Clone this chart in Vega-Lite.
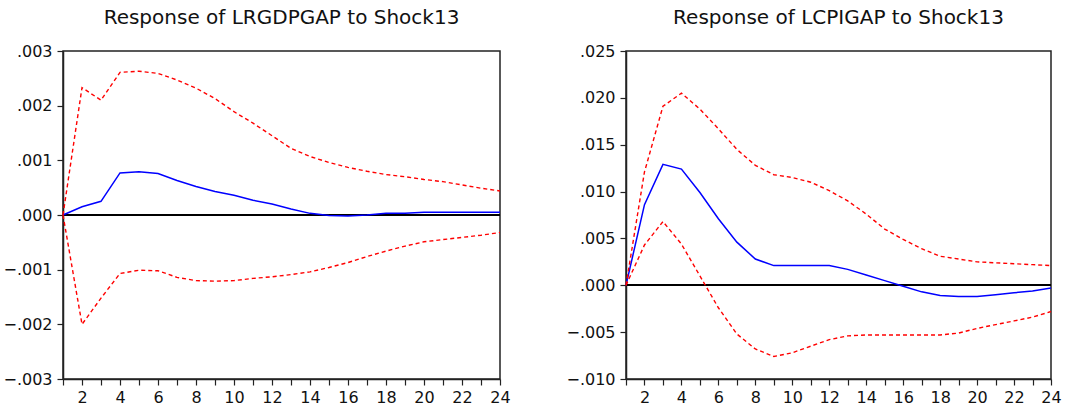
{
  "$schema": "https://vega.github.io/schema/vega-lite/v6.json",
  "background": "white",
  "padding": {"left": 2, "top": 7, "right": 0, "bottom": 0},
  "spacing": 126,
  "bounds": "flush",
  "data": {"values": [
    {"p":"L","h":1,"resp":0,"lo":0,"hi":0},
    {"p":"L","h":2,"resp":0.00015,"lo":-0.00200,"hi":0.00233},
    {"p":"L","h":3,"resp":0.00025,"lo":-0.00152,"hi":0.00210},
    {"p":"L","h":4,"resp":0.00077,"lo":-0.00107,"hi":0.00261},
    {"p":"L","h":5,"resp":0.00079,"lo":-0.00101,"hi":0.00263},
    {"p":"L","h":6,"resp":0.00076,"lo":-0.00102,"hi":0.00259},
    {"p":"L","h":7,"resp":0.00063,"lo":-0.00114,"hi":0.00247},
    {"p":"L","h":8,"resp":0.00052,"lo":-0.00120,"hi":0.00232},
    {"p":"L","h":9,"resp":0.00043,"lo":-0.00121,"hi":0.00213},
    {"p":"L","h":10,"resp":0.00036,"lo":-0.00120,"hi":0.00189},
    {"p":"L","h":11,"resp":0.00027,"lo":-0.00116,"hi":0.00168},
    {"p":"L","h":12,"resp":0.00020,"lo":-0.00113,"hi":0.00145},
    {"p":"L","h":13,"resp":0.00011,"lo":-0.00109,"hi":0.00122},
    {"p":"L","h":14,"resp":0.00003,"lo":-0.00104,"hi":0.00107},
    {"p":"L","h":15,"resp":-0.00001,"lo":-0.00096,"hi":0.00096},
    {"p":"L","h":16,"resp":-0.00002,"lo":-0.00087,"hi":0.00087},
    {"p":"L","h":17,"resp":0.00000,"lo":-0.00076,"hi":0.00080},
    {"p":"L","h":18,"resp":0.00003,"lo":-0.00066,"hi":0.00074},
    {"p":"L","h":19,"resp":0.00003,"lo":-0.00057,"hi":0.00070},
    {"p":"L","h":20,"resp":0.00005,"lo":-0.00049,"hi":0.00065},
    {"p":"L","h":21,"resp":0.00005,"lo":-0.00045,"hi":0.00061},
    {"p":"L","h":22,"resp":0.00005,"lo":-0.00041,"hi":0.00055},
    {"p":"L","h":23,"resp":0.00005,"lo":-0.00037,"hi":0.00049},
    {"p":"L","h":24,"resp":0.00005,"lo":-0.00032,"hi":0.00044},
    {"p":"R","h":1,"resp":0,"lo":0,"hi":0},
    {"p":"R","h":2,"resp":0.0086,"lo":0.0043,"hi":0.0121},
    {"p":"R","h":3,"resp":0.0129,"lo":0.0068,"hi":0.0191},
    {"p":"R","h":4,"resp":0.0124,"lo":0.0044,"hi":0.0205},
    {"p":"R","h":5,"resp":0.0099,"lo":0.0010,"hi":0.0188},
    {"p":"R","h":6,"resp":0.0071,"lo":-0.0024,"hi":0.0167},
    {"p":"R","h":7,"resp":0.0046,"lo":-0.0052,"hi":0.0145},
    {"p":"R","h":8,"resp":0.0028,"lo":-0.0068,"hi":0.0128},
    {"p":"R","h":9,"resp":0.0021,"lo":-0.0076,"hi":0.0118},
    {"p":"R","h":10,"resp":0.0021,"lo":-0.0072,"hi":0.0115},
    {"p":"R","h":11,"resp":0.0021,"lo":-0.0065,"hi":0.0110},
    {"p":"R","h":12,"resp":0.0021,"lo":-0.0058,"hi":0.0101},
    {"p":"R","h":13,"resp":0.0017,"lo":-0.0054,"hi":0.0090},
    {"p":"R","h":14,"resp":0.0011,"lo":-0.0053,"hi":0.0076},
    {"p":"R","h":15,"resp":0.0005,"lo":-0.0053,"hi":0.0060},
    {"p":"R","h":16,"resp":-0.0001,"lo":-0.0053,"hi":0.0049},
    {"p":"R","h":17,"resp":-0.0007,"lo":-0.0053,"hi":0.0039},
    {"p":"R","h":18,"resp":-0.0011,"lo":-0.0053,"hi":0.0031},
    {"p":"R","h":19,"resp":-0.0012,"lo":-0.0051,"hi":0.0028},
    {"p":"R","h":20,"resp":-0.0012,"lo":-0.0046,"hi":0.0025},
    {"p":"R","h":21,"resp":-0.0010,"lo":-0.0042,"hi":0.0024},
    {"p":"R","h":22,"resp":-0.0008,"lo":-0.0038,"hi":0.0023},
    {"p":"R","h":23,"resp":-0.0006,"lo":-0.0034,"hi":0.0022},
    {"p":"R","h":24,"resp":-0.0003,"lo":-0.0028,"hi":0.0021}
  ]},
  "hconcat": [
    {
      "width": 437, "height": 328,
      "title": {"text": "Response of LRGDPGAP to Shock13"},
      "transform": [{"filter": "datum.p === 'L'"}],
      "encoding": {
        "x": {"field": "h", "type": "quantitative", "scale": {"domain": [1,24], "nice": false, "zero": false},
          "axis": {"values": [1,2,3,4,5,6,7,8,9,10,11,12,13,14,15,16,17,18,19,20,21,22,23,24], "tickCount": 24, "labelExpr": "datum.value % 2 === 0 ? datum.label : ''", "title": null}}
      },
      "layer": [
        {"mark": {"type": "rule", "color": "black", "strokeWidth": 1.2},
         "encoding": {"x": {"datum": 1}, "x2": {"datum": 24}, "y": {"datum": 0, "type": "quantitative",
           "scale": {"domain": [-0.003, 0.003], "nice": false, "zero": false},
           "axis": {"values": [-0.003,-0.002,-0.001,0,0.001,0.002,0.003], "labelExpr": "replace(format(datum.value,'.3f'),'0.','.')", "title": null}}}},
        {"mark": {"type": "line", "color": "#0000ff", "strokeWidth": 1.5},
         "encoding": {"y": {"field": "resp", "type": "quantitative"}}},
        {"mark": {"type": "line", "color": "#ff0000", "strokeWidth": 1.4, "strokeDash": [4,3]},
         "encoding": {"y": {"field": "lo", "type": "quantitative"}}},
        {"mark": {"type": "line", "color": "#ff0000", "strokeWidth": 1.4, "strokeDash": [4,3]},
         "encoding": {"y": {"field": "hi", "type": "quantitative"}}}
      ]
    },
    {
      "width": 425, "height": 328,
      "title": {"text": "Response of LCPIGAP to Shock13"},
      "transform": [{"filter": "datum.p === 'R'"}],
      "encoding": {
        "x": {"field": "h", "type": "quantitative", "scale": {"domain": [1,24], "nice": false, "zero": false},
          "axis": {"values": [1,2,3,4,5,6,7,8,9,10,11,12,13,14,15,16,17,18,19,20,21,22,23,24], "tickCount": 24, "labelExpr": "datum.value % 2 === 0 ? datum.label : ''", "title": null}}
      },
      "layer": [
        {"mark": {"type": "rule", "color": "black", "strokeWidth": 1.2},
         "encoding": {"x": {"datum": 1}, "x2": {"datum": 24}, "y": {"datum": 0, "type": "quantitative",
           "scale": {"domain": [-0.010, 0.025], "nice": false, "zero": false},
           "axis": {"values": [-0.010,-0.005,0,0.005,0.010,0.015,0.020,0.025], "labelExpr": "replace(format(datum.value,'.3f'),'0.','.')", "title": null}}}},
        {"mark": {"type": "line", "color": "#0000ff", "strokeWidth": 1.5},
         "encoding": {"y": {"field": "resp", "type": "quantitative"}}},
        {"mark": {"type": "line", "color": "#ff0000", "strokeWidth": 1.4, "strokeDash": [4,3]},
         "encoding": {"y": {"field": "lo", "type": "quantitative"}}},
        {"mark": {"type": "line", "color": "#ff0000", "strokeWidth": 1.4, "strokeDash": [4,3]},
         "encoding": {"y": {"field": "hi", "type": "quantitative"}}}
      ]
    }
  ],
  "config": {
    "view": {"stroke": "#222222", "strokeWidth": 1.5},
    "axis": {"grid": false, "domainColor": "#222222", "domainWidth": 1.5, "tickColor": "#222222", "tickWidth": 1.2, "tickSize": 6,
      "labelFont": "DejaVu Sans", "labelFontSize": 16, "labelColor": "#111111", "labelOverlap": false, "labelFlush": false},
    "axisY": {"labelPadding": 5},
    "axisX": {"labelPadding": 4},
    "title": {"font": "DejaVu Sans", "fontSize": 20, "fontWeight": "normal", "color": "#111111", "anchor": "middle", "offset": 15}
  }
}
